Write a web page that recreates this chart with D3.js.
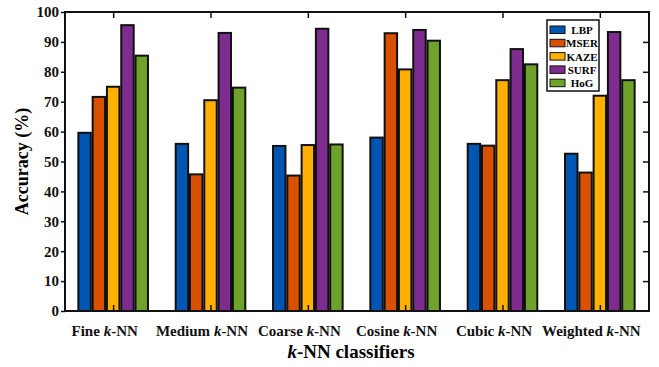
<!DOCTYPE html>
<html>
<head>
<meta charset="utf-8">
<script src="https://cdn.jsdelivr.net/npm/d3@7"></script>
<style>
  body { margin: 0; background: #fff; }
  text { font-family: "Liberation Serif", "Times New Roman", serif; font-weight: bold; }
</style>
</head>
<body>
<svg></svg>
<script>
const width = 659;
const height = 367;
const svg = d3.select("svg").attr("width", width).attr("height", height);

// chart data
const classifiers = ["Fine", "Medium", "Coarse", "Cosine", "Cubic", "Weighted"];
const features = ["LBP", "MSER", "KAZE", "SURF", "HoG"];
const LBP = [59.6, 55.9, 55.2, 58.0, 55.9, 52.6];
const MSER = [71.6, 45.7, 45.3, 92.9, 55.3, 46.3];
const KAZE = [75.0, 70.5, 55.5, 80.8, 77.2, 72.0];
const SURF = [95.6, 93.0, 94.4, 94.0, 87.6, 93.3];
const HoG = [85.4, 74.7, 55.7, 90.4, 82.5, 77.2];
const yTicks = [0, 10, 20, 30, 40, 50, 60, 70, 80, 90, 100];

const series = [LBP, MSER, KAZE, SURF, HoG];
const colors = ["#0056b3", "#d95000", "#ffb000", "#7e2c8e", "#6fa22a"];

const margin = { top: 12, right: 10, bottom: 56, left: 65 };
const plotW = width - margin.left - margin.right;
const plotH = height - margin.top - margin.bottom;

const x0 = d3.scaleBand().domain(classifiers).range([0, plotW]).padding(0);
const x1 = d3.scaleBand().domain(features).range([11.5, x0.bandwidth() - 12.5]).padding(0.13);
const y = d3.scaleLinear().domain([0, 100]).range([plotH, 0]);

const g = svg.append("g").attr("transform", `translate(${margin.left},${margin.top})`);

// bars
const groups = g.selectAll("g.grp")
  .data(classifiers)
  .enter()
  .append("g")
  .attr("class", "grp")
  .attr("transform", (d) => `translate(${x0(d)},0)`);

groups.selectAll("rect")
  .data((d, i) => features.map((f, j) => ({ f, j, v: series[j][i] })))
  .enter()
  .append("rect")
  .attr("x", (d) => x1(d.f))
  .attr("y", (d) => y(d.v))
  .attr("width", x1.bandwidth())
  .attr("height", (d) => plotH - y(d.v))
  .attr("fill", (d) => colors[d.j])
  .attr("stroke", "#111")
  .attr("stroke-width", 2);

// axes
const axisStyle = (sel) => {
  sel.select(".domain").remove();
  sel.selectAll("line").attr("stroke", "#111").attr("stroke-width", 1.5);
  sel.selectAll("text").attr("fill", "#111");
};

g.append("g")
  .call(d3.axisLeft(y).tickValues(yTicks).tickSize(4).tickPadding(2))
  .call(axisStyle)
  .selectAll("text").attr("font-size", 15);

g.append("g")
  .attr("transform", `translate(${plotW},0)`)
  .call(d3.axisRight(y).tickValues(yTicks.slice(1, -1)).tickSize(-6).tickFormat(""))
  .call(axisStyle);

g.append("g")
  .call(d3.axisTop(x0).tickSize(-6).tickFormat(""))
  .call(axisStyle);

const xAxis = g.append("g")
  .attr("transform", `translate(0,${plotH})`)
  .call(d3.axisBottom(x0).tickSize(-6).tickPadding(14))
  .call(axisStyle);

xAxis.selectAll("text")
  .attr("font-size", 15)
  .attr("dx", -9)
  .text(null)
  .each(function (d) {
    const t = d3.select(this);
    t.append("tspan").text(d + " ");
    t.append("tspan").attr("font-style", "italic").text("k");
    t.append("tspan").text("-NN");
  });

// frame
g.append("rect")
  .attr("width", plotW)
  .attr("height", plotH)
  .attr("fill", "none")
  .attr("stroke", "#111")
  .attr("stroke-width", 2);

// axis titles
const xt = svg.append("text")
  .attr("x", 351)
  .attr("y", 358)
  .attr("text-anchor", "middle")
  .attr("font-size", 19);
xt.append("tspan").attr("font-style", "italic").text("k");
xt.append("tspan").text("-NN classifiers");

svg.append("text")
  .attr("transform", `translate(28,${margin.top + plotH / 2}) rotate(-90)`)
  .attr("text-anchor", "middle")
  .attr("font-size", 18)
  .text("Accuracy (%)");

// legend
const legend = svg.append("g").attr("transform", "translate(547,20)");
legend.append("rect")
  .attr("width", 52)
  .attr("height", 71)
  .attr("fill", "#fff")
  .attr("stroke", "#111")
  .attr("stroke-width", 1.5);

const items = legend.selectAll("g.item")
  .data(features)
  .enter()
  .append("g")
  .attr("class", "item")
  .attr("transform", (d, i) => `translate(3,${6 + i * 13.3})`);

items.append("rect")
  .attr("width", 15)
  .attr("height", 7.5)
  .attr("fill", (d, i) => colors[i])
  .attr("stroke", "#111")
  .attr("stroke-width", 1);

items.append("text")
  .attr("x", 32)
  .attr("y", 8)
  .attr("text-anchor", "middle")
  .attr("font-size", 11)
  .text((d) => d);
</script>
</body>
</html>
